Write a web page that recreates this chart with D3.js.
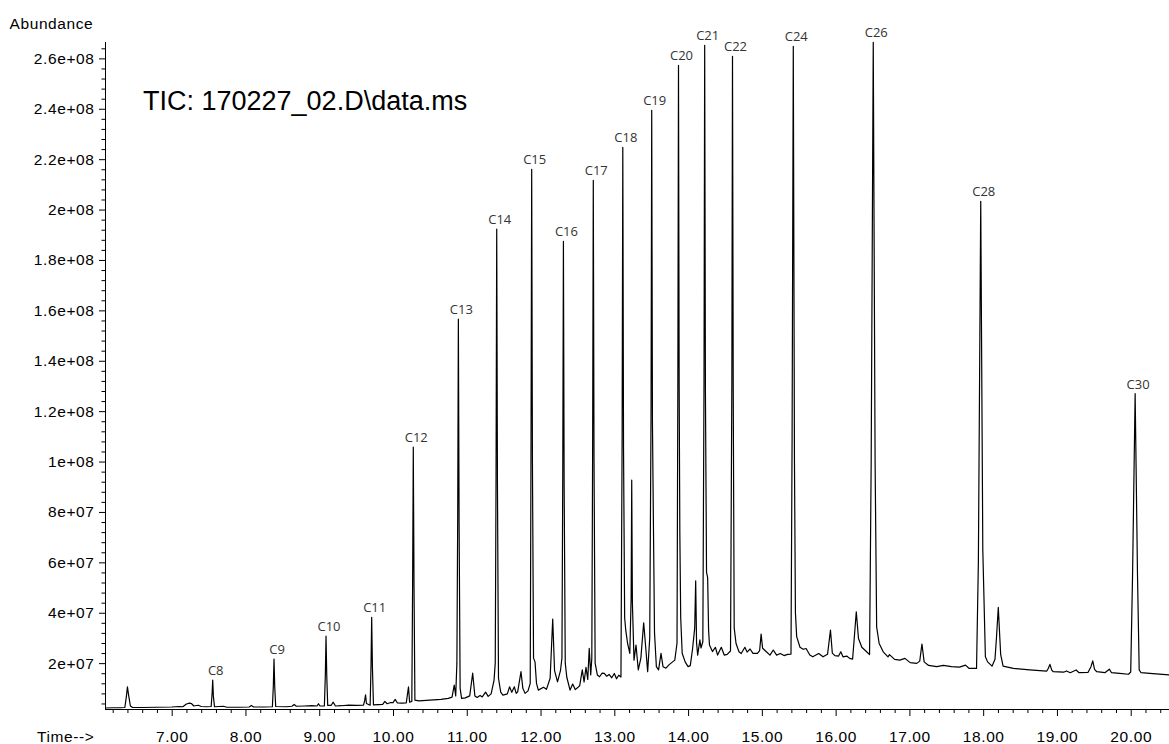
<!DOCTYPE html>
<html>
<head>
<meta charset="utf-8">
<script src="https://cdn.jsdelivr.net/npm/d3@7"></script>
<style>
  body { margin: 0; background: #fff; }
  svg { display: block; }
</style>
</head>
<body>
<div id="chart-area"></div>
<script>
// TIC chromatogram, abundance stored in millions of counts, time in minutes
var W = 1169, H = 744;

// trace: [time (min), abundance (1e6)]
var traceA = [
  [6.10,2.2],[6.20,2.3],[6.30,2.3],[6.365,2.4],[6.385,6.5],[6.400,10.6],[6.415,7.5],[6.44,3.0],[6.47,2.4],
  [6.60,2.4],[6.80,2.5],[7.00,2.6],[7.10,2.8],[7.15,2.7],[7.20,3.8],[7.24,4.1],[7.27,3.9],[7.30,3.0],
  [7.36,3.3],[7.40,2.8],[7.47,2.7],[7.535,2.8],[7.548,8.0],[7.556,13.3],[7.565,7.0],[7.58,2.7],[7.70,2.9],
  [7.75,2.5],[7.90,2.5],[8.05,2.6],[8.08,3.2],[8.11,2.6],[8.25,2.6],[8.365,2.7],[8.378,11.0],[8.387,21.6],
  [8.397,10.5],[8.41,2.8],[8.55,2.7],[8.63,2.9],[8.66,3.6],[8.69,2.9],[8.80,3.0],[8.90,3.1],[8.97,3.0],
  [8.99,3.9],[9.01,3.0],[9.07,3.0],[9.083,15.5],[9.092,30.7],[9.102,15.0],[9.115,3.2],[9.16,3.2],[9.19,4.5],
  [9.22,3.0],[9.30,3.1],[9.40,3.3],[9.50,3.2],[9.60,3.3],[9.615,5.0],[9.628,7.4],[9.64,4.0],[9.69,3.3],
  [9.702,19.0],[9.711,38.2],[9.721,18.5],[9.735,3.4],[9.80,3.5],[9.86,3.6],[9.89,4.8],[9.92,3.9],[9.96,4.3],
  [10.00,4.3]
];
var traceB = [
  [10.03,5.6],[10.06,4.2],[10.12,4.1],[10.18,4.2],[10.21,10.6],[10.225,4.5],[10.255,4.8],[10.266,52.0],
  [10.275,105.7],[10.285,50.0],[10.297,5.3],[10.35,5.0],[10.45,5.2],[10.55,5.4],[10.65,5.6],[10.75,6.0],
  [10.80,6.5],[10.83,11.3],[10.85,7.0],[10.866,20.0],[10.877,78.0],[10.886,156.5],[10.896,75.0],[10.91,10.0],
  [10.93,6.0],[10.98,6.2],[11.04,7.0],[11.08,16.0],[11.11,7.0],[11.14,6.4],[11.18,7.2],[11.21,6.6],
  [11.255,8.5],[11.29,6.8],[11.33,7.8],[11.37,13.3],[11.386,20.0],[11.397,95.0],[11.406,192.2],[11.416,90.0],
  [11.43,14.0],[11.46,8.5],[11.49,7.3],[11.55,7.8],[11.58,10.6],[11.61,8.4],[11.645,10.6],[11.67,8.0],
  [11.69,8.6],[11.735,16.6],[11.76,10.0],[11.79,8.0],[11.83,9.0],[11.86,12.0],[11.871,108.0],[11.880,216.0],
  [11.890,100.0],[11.905,22.0],[11.925,20.5],[11.945,12.0],[11.97,9.3],[12.04,10.4],[12.08,9.6],[12.13,14.0],
  [12.165,37.5],[12.19,17.0],[12.23,12.6],[12.27,17.0],[12.29,22.0],[12.301,94.0],[12.310,187.4],[12.320,90.0],
  [12.335,20.0],[12.356,14.4],[12.40,9.3],[12.436,11.7],[12.47,9.5],[12.50,10.2]
];
var traceC = [
  [12.53,11.0],[12.566,17.3],[12.59,12.5],[12.616,18.3],[12.64,13.5],[12.66,25.9],[12.68,15.3],[12.695,22.0],
  [12.706,105.0],[12.715,211.6],[12.725,100.0],[12.74,20.0],[12.77,15.3],[12.80,14.6],[12.835,16.0],
  [12.864,15.9],[12.897,14.8],[12.93,15.5],[12.965,14.2],[13.00,15.9],[13.03,13.8],[13.06,15.2],[13.09,14.5],
  [13.106,110.0],[13.115,224.7],[13.125,105.0],[13.14,38.0],[13.155,33.1],[13.18,27.8],[13.21,23.9],
  [13.228,46.0],[13.236,92.6],[13.245,44.0],[13.267,21.2],[13.294,27.2],[13.325,17.3],[13.36,22.0],
  [13.398,36.0],[13.425,26.5],[13.452,16.6],[13.48,30.0],[13.498,120.0],[13.507,239.4],[13.517,115.0],
  [13.53,75.5],[13.545,32.0],[13.57,18.6],[13.60,17.3],[13.633,23.9],[13.66,18.6],[13.70,18.0],[13.74,19.3],
  [13.79,20.5],[13.82,21.2],[13.85,28.0],[13.861,128.0],[13.870,257.2],[13.879,130.0],[13.888,72.0],
  [13.90,38.0],[13.92,23.9],[13.96,20.5],[14.00,18.6],[14.03,19.0],[14.06,25.5],[14.09,34.0],[14.103,52.7],
  [14.115,28.0],[14.13,23.2],[14.16,29.2],[14.175,26.0],[14.20,28.5],[14.216,132.0],[14.225,265.2],
  [14.235,128.0],[14.25,56.0],[14.265,54.0],[14.278,33.0],[14.29,27.2],[14.33,24.6],[14.37,26.3],[14.40,23.2],
  [14.45,26.3],[14.49,23.2],[14.53,23.5],[14.575,24.8],[14.593,130.0],[14.602,260.8],[14.612,128.0],
  [14.625,34.0],[14.65,27.8],[14.69,24.5],[14.72,23.8],[14.77,26.3],[14.80,24.4],[14.84,25.6],[14.88,23.9],
  [14.94,23.9],[14.97,25.0],[14.99,31.5],[15.01,25.9],[15.05,24.8],[15.11,23.2]
];
var traceD = [
  [15.155,25.2],[15.20,23.2],[15.25,23.8],[15.30,23.0],[15.35,23.5],[15.395,23.6],[15.41,110.0],[15.426,264.8],
  [15.442,100.0],[15.455,40.0],[15.472,30.5],[15.517,26.3],[15.56,25.5],[15.60,25.8],[15.65,23.2],[15.69,22.5],
  [15.77,23.8],[15.83,22.5],[15.89,23.5],[15.905,27.0],[15.93,33.1],[15.955,24.0],[15.99,23.0],[16.04,22.8],
  [16.07,24.5],[16.10,22.5],[16.15,22.8],[16.19,21.9],[16.23,21.6],[16.25,29.0],[16.28,40.4],[16.31,29.8],
  [16.355,26.3],[16.42,24.5],[16.46,23.4],[16.482,100.0],[16.51,266.4],[16.535,100.0],[16.556,34.4],
  [16.59,27.8],[16.645,24.5],[16.71,22.5],[16.73,23.4],[16.80,21.5],[16.87,21.2],[16.94,21.9],[17.01,20.2],
  [17.10,19.9],[17.14,20.8],[17.17,27.6],[17.20,20.5],[17.26,19.1],[17.37,18.6],[17.46,19.1],[17.57,18.6],
  [17.68,18.4],[17.76,19.2],[17.81,17.9],[17.91,17.9],[17.935,60.0],[17.967,203.3],[17.995,65.0],[18.03,22.5],
  [18.06,20.5],[18.12,18.8],[18.16,21.5],[18.18,30.0],[18.205,42.1],[18.237,23.5],[18.27,18.8],[18.41,17.9],
  [18.63,17.3],[18.86,16.8],[18.88,17.8],[18.905,19.5],[18.93,17.2],[18.95,16.6],[19.09,16.4],[19.13,16.9],
  [19.18,16.2],[19.26,17.3],[19.30,16.2],[19.42,16.3],[19.46,18.5],[19.485,20.9],[19.51,17.5],[19.54,16.6],
  [19.65,16.2],[19.71,17.6],[19.74,16.2],[19.85,15.9],[19.97,15.6],[20.00,16.5],[20.025,55.0],[20.060,127.0],
  [20.092,55.0],[20.115,17.3],[20.14,16.2],[20.30,15.8],[20.52,15.3]
];
var trace = traceA.concat(traceB, traceC, traceD);

// n-alkane peak labels
var peakNames = ["C8","C9","C10","C11","C12","C13","C14","C15","C16","C17","C18","C19","C20","C21","C22","C24","C26","C28","C30"];
var peakTimes = [7.556,8.387,9.092,9.711,10.275,10.886,11.406,11.880,12.310,12.715,13.115,13.507,13.870,14.225,14.602,15.426,16.51,17.967,20.060];
var peakAbund = [13.3,21.6,30.7,38.2,105.7,156.5,192.2,216.0,187.4,211.6,224.7,239.4,257.2,265.2,260.8,264.8,266.4,203.3,127.0];

// axis ticks
var xTickValues = [7,8,9,10,11,12,13,14,15,16,17,18,19,20];
var yTickValues = [20,40,60,80,100,120,140,160,180,200,220,240,260];
var yTickLabels = ["2e+07","4e+07","6e+07","8e+07","1e+08","1.2e+08","1.4e+08","1.6e+08","1.8e+08","2e+08","2.2e+08","2.4e+08","2.6e+08"];

var plotLeft = 105, axisY = 709, plotTop = 42;

var svg = d3.select("#chart-area").append("svg")
    .attr("width", W)
    .attr("height", H);

svg.append("rect").attr("width", W).attr("height", H).attr("fill", "#fff");

var x = d3.scaleLinear().domain([6.096, 20.519]).range([plotLeft, W]);
var y = d3.scaleLinear().domain([1.8, 266.5]).range([axisY, plotTop]);

var font = "'Liberation Sans', Arial, Helvetica, sans-serif";

// minor ticks
var xMinor = d3.range(31, 103).map(function(i){ return i / 5; })
    .filter(function(d){ return d > 6.1 && d < 20.52 && Math.abs(d - Math.round(d)) > 0.01; });
svg.append("g")
    .attr("transform", "translate(0," + axisY + ")")
    .call(d3.axisBottom(x).tickValues(xMinor).tickSize(4).tickFormat(""))
    .call(function(g){ g.select(".domain").remove(); });

var yMinor = d3.range(1, 67).map(function(i){ return i * 4; })
    .filter(function(d){ return d % 20 !== 0 && d > 1.8; });
svg.append("g")
    .attr("transform", "translate(" + plotLeft + ",0)")
    .call(d3.axisLeft(y).tickValues(yMinor).tickSize(3.5).tickFormat(""))
    .call(function(g){ g.select(".domain").remove(); });

// X axis
var xAxis = svg.append("g")
    .attr("transform", "translate(0," + axisY + ")")
    .call(d3.axisBottom(x).tickValues(xTickValues).tickSize(7).tickPadding(14.5)
        .tickFormat(d3.format(".2f")));
xAxis.select(".domain").attr("d", "M" + plotLeft + ",0.5H" + W);

// Y axis
var yAxis = svg.append("g")
    .attr("transform", "translate(" + plotLeft + ",0)")
    .call(d3.axisLeft(y).tickValues(yTickValues).tickSize(6).tickPadding(4.5)
        .tickFormat(function(d, i){ return yTickLabels[i]; }));
yAxis.select(".domain").attr("d", "M0.5," + plotTop + "V" + axisY);

svg.selectAll(".tick text")
    .style("font-family", font)
    .style("font-size", "15.5px")
    .style("letter-spacing", "0.6px")
    .attr("fill", "#000");
svg.selectAll(".tick line, .domain").attr("stroke", "#000");

// axis titles
svg.append("text")
    .attr("x", 94.5).attr("y", 741.5)
    .attr("text-anchor", "end")
    .style("font-family", font).style("font-size", "15.5px").style("letter-spacing", "0.6px")
    .text("Time-->");
svg.append("text")
    .attr("x", 9.5).attr("y", 28.5)
    .style("font-family", font).style("font-size", "15.5px").style("letter-spacing", "0.6px")
    .text("Abundance");

// chart title
svg.append("text")
    .attr("x", 143).attr("y", 110)
    .style("font-family", font).style("font-size", "27px")
    .text("TIC: 170227_02.D\\data.ms");

// trace
var line = d3.line()
    .x(function(d){ return x(d[0]); })
    .y(function(d){ return y(d[1]); });

svg.append("path")
    .datum(trace)
    .attr("fill", "none")
    .attr("stroke", "#000")
    .attr("stroke-width", 1.2)
    .attr("stroke-linejoin", "round")
    .attr("d", line);

// peak labels
svg.append("g").selectAll("text")
    .data(peakNames)
    .enter().append("text")
    .attr("x", function(d, i){ return x(peakTimes[i]) + 3; })
    .attr("y", function(d, i){ return y(peakAbund[i]) - 5; })
    .attr("text-anchor", "middle")
    .style("font-family", "'Open Sans', 'DejaVu Sans', sans-serif")
    .style("font-size", "13px")
    .attr("fill", "#333")
    .text(function(d){ return d; });
</script>
</body>
</html>
